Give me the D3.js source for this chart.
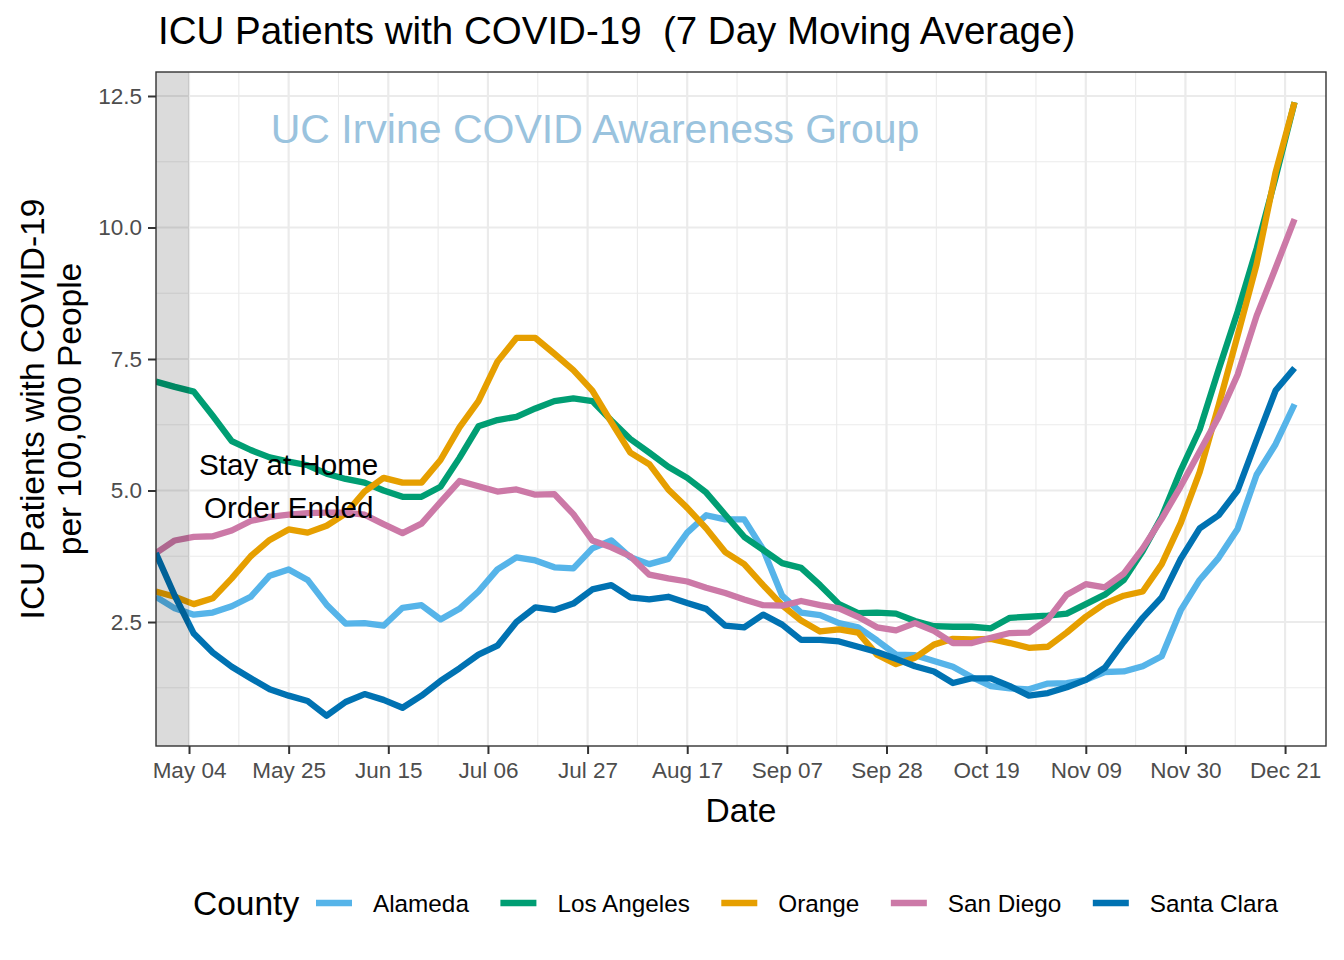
<!DOCTYPE html>
<html><head><meta charset="utf-8">
<script src="https://cdn.jsdelivr.net/npm/d3@7"></script>
<style>
body{margin:0;background:#fff}
text{font-family:"Liberation Sans",Arial,Helvetica,sans-serif}
</style>
</head><body>
<svg id="chart" width="1344" height="960"></svg>
<script>
// ---------------- data ----------------
const dates = ["2020-04-27","2020-05-01","2020-05-05","2020-05-09","2020-05-13","2020-05-17","2020-05-21","2020-05-25","2020-05-29",
"2020-06-02","2020-06-06","2020-06-10","2020-06-14","2020-06-18","2020-06-22","2020-06-26","2020-06-30",
"2020-07-04","2020-07-08","2020-07-12","2020-07-16","2020-07-20","2020-07-24","2020-07-28",
"2020-08-01","2020-08-05","2020-08-09","2020-08-13","2020-08-17","2020-08-21","2020-08-25","2020-08-29",
"2020-09-02","2020-09-06","2020-09-10","2020-09-14","2020-09-18","2020-09-22","2020-09-26","2020-09-30",
"2020-10-04","2020-10-08","2020-10-12","2020-10-16","2020-10-20","2020-10-24","2020-10-28",
"2020-11-01","2020-11-05","2020-11-09","2020-11-13","2020-11-17","2020-11-21","2020-11-25","2020-11-29",
"2020-12-03","2020-12-07","2020-12-11","2020-12-15","2020-12-19","2020-12-23"];

const alameda = [2.98,2.76,2.64,2.68,2.8,2.98,3.38,3.5,3.3,2.83,2.47,2.48,2.43,2.77,2.82,2.55,2.75,3.08,3.5,3.73,3.67,3.54,3.52,3.9,4.05,3.73,3.6,3.7,4.2,4.53,4.45,4.45,3.88,3.0,2.68,2.63,2.48,2.4,2.15,1.88,1.87,1.76,1.65,1.45,1.28,1.24,1.22,1.33,1.34,1.4,1.55,1.56,1.66,1.85,2.72,3.3,3.72,4.27,5.3,5.88,6.64];
const losAngeles = [7.07,6.97,6.88,6.42,5.94,5.77,5.63,5.55,5.48,5.32,5.22,5.15,5.0,4.88,4.88,5.07,5.62,6.22,6.34,6.4,6.56,6.7,6.75,6.7,6.33,5.98,5.72,5.45,5.24,4.96,4.54,4.12,3.87,3.62,3.53,3.2,2.84,2.67,2.68,2.66,2.52,2.42,2.41,2.41,2.38,2.58,2.6,2.62,2.66,2.84,3.02,3.3,3.85,4.5,5.38,6.16,7.3,8.4,9.6,10.95,12.38];
const orange = [3.08,2.98,2.84,2.95,3.33,3.75,4.06,4.26,4.2,4.33,4.56,4.98,5.24,5.15,5.15,5.58,6.2,6.7,7.45,7.9,7.9,7.6,7.29,6.9,6.3,5.72,5.5,5.02,4.67,4.28,3.83,3.6,3.2,2.82,2.53,2.32,2.36,2.3,1.88,1.7,1.82,2.07,2.18,2.17,2.18,2.1,2.01,2.03,2.3,2.6,2.85,3.0,3.08,3.6,4.38,5.35,6.62,7.95,9.3,11.05,12.38];
const sanDiego = [3.81,4.05,4.12,4.13,4.24,4.42,4.5,4.54,4.57,4.58,4.58,4.54,4.36,4.19,4.37,4.78,5.18,5.08,4.98,5.02,4.92,4.93,4.55,4.05,3.92,3.75,3.4,3.33,3.27,3.15,3.05,2.93,2.82,2.81,2.9,2.82,2.76,2.6,2.4,2.34,2.48,2.33,2.1,2.1,2.2,2.29,2.3,2.55,3.02,3.22,3.16,3.42,3.9,4.46,5.08,5.74,6.4,7.2,8.32,9.23,10.16];
const santaClara = [3.81,3.0,2.28,1.92,1.65,1.43,1.22,1.1,1.0,0.72,0.98,1.13,1.02,0.87,1.1,1.38,1.62,1.88,2.05,2.5,2.78,2.73,2.85,3.12,3.2,2.97,2.93,2.98,2.86,2.75,2.43,2.4,2.64,2.45,2.16,2.16,2.13,2.03,1.93,1.8,1.66,1.56,1.34,1.43,1.43,1.28,1.1,1.15,1.26,1.4,1.63,2.12,2.58,2.97,3.7,4.28,4.53,5.0,5.96,6.9,7.33];

const counties = ["Alameda","Los Angeles","Orange","San Diego","Santa Clara"];
const countyValues = [alameda, losAngeles, orange, sanDiego, santaClara];
const countyColors = ["#56B4E9","#009E73","#E69F00","#CC79A7","#0072B2"];

const xTickDates = ["2020-05-04","2020-05-25","2020-06-15","2020-07-06","2020-07-27","2020-08-17","2020-09-07","2020-09-28","2020-10-19","2020-11-09","2020-11-30","2020-12-21"];
const xTickLabels = ["May 04","May 25","Jun 15","Jul 06","Jul 27","Aug 17","Sep 07","Sep 28","Oct 19","Nov 09","Nov 30","Dec 21"];
const yTicks = [2.5,5.0,7.5,10.0,12.5];
const yMinorTicks = [1.25,3.75,6.25,8.75,11.25];
const stayHomeEnd = "2020-05-04";

// ---------------- layout ----------------
const svg = d3.select("#chart");
const L = 156, R = 1326, T = 72, B = 746;
const parse = d3.utcParse("%Y-%m-%d");
const x = d3.scaleUtc()
  .domain([new Date(Date.UTC(2020,3,27,1)), new Date(Date.UTC(2020,11,29,15))])
  .range([L, R]);
const y = d3.scaleLinear().domain([0.143, 12.956]).range([B, T]);

const fontTick = 22.5, fontAxisTitle = 33.5;

// panel background
svg.append("rect").attr("x",L).attr("y",T).attr("width",R-L).attr("height",B-T).attr("fill","#fff");

// gridlines
const grid = svg.append("g");
const xt = xTickDates.map(parse);
const xMinor = xt.slice(0,-1).map(d => new Date(+d + 10.5*864e5));
grid.selectAll(".ymin").data(yMinorTicks).join("line")
  .attr("x1",L).attr("x2",R).attr("y1",d=>y(d)).attr("y2",d=>y(d))
  .attr("stroke","#EBEBEB").attr("stroke-width",1.1);
grid.selectAll(".xmin").data(xMinor).join("line")
  .attr("y1",T).attr("y2",B).attr("x1",d=>x(d)).attr("x2",d=>x(d))
  .attr("stroke","#EBEBEB").attr("stroke-width",1.1);
grid.selectAll(".ymaj").data(yTicks).join("line")
  .attr("x1",L).attr("x2",R).attr("y1",d=>y(d)).attr("y2",d=>y(d))
  .attr("stroke","#EBEBEB").attr("stroke-width",2.2);
grid.selectAll(".xmaj").data(xt).join("line")
  .attr("y1",T).attr("y2",B).attr("x1",d=>x(d)).attr("x2",d=>x(d))
  .attr("stroke","#EBEBEB").attr("stroke-width",2.2);

// watermark
svg.append("text").attr("x", 595).attr("y", 143).attr("text-anchor","middle")
  .attr("font-size", 41).attr("fill","#9AC3DE").text("UC Irvine COVID Awareness Group");

// lines
svg.append("clipPath").attr("id","clip").append("rect")
  .attr("x",L).attr("y",T).attr("width",R-L).attr("height",B-T);
const parsedDates = dates.map(parse);
const line = d3.line().x((d,i)=>x(parsedDates[i])).y(d=>y(d));
const lg = svg.append("g").attr("clip-path","url(#clip)");
countyValues.forEach((vals,k)=>{
  lg.append("path").attr("d", line(vals)).attr("fill","none")
    .attr("stroke", countyColors[k]).attr("stroke-width",6.3)
    .attr("stroke-linejoin","round").attr("stroke-linecap","butt");
});

// shaded period
svg.append("rect").attr("x",L).attr("y",T)
  .attr("width", x(parse(stayHomeEnd)) - L).attr("height", B-T)
  .attr("fill","#000").attr("fill-opacity",0.14);

// annotation
const annX = x(parse("2020-05-25")), annY = y(5.0);
svg.append("text").attr("x",annX).attr("y",annY-16).attr("text-anchor","middle")
  .attr("font-size",29.6).attr("fill","#000").text("Stay at Home");
svg.append("text").attr("x",annX).attr("y",annY+27).attr("text-anchor","middle")
  .attr("font-size",29.6).attr("fill","#000").text("Order Ended");

// panel border
svg.append("rect").attr("x",L).attr("y",T).attr("width",R-L).attr("height",B-T)
  .attr("fill","none").attr("stroke","#333333").attr("stroke-width",1.4);

// axes
const xAxis = d3.axisBottom(x).tickValues(xt)
  .tickFormat((d,i)=>xTickLabels[i]).tickSize(8).tickPadding(8);
const gx = svg.append("g").attr("transform",`translate(0,${B})`).call(xAxis);
gx.select(".domain").remove();
gx.selectAll(".tick line").attr("stroke","#333333").attr("stroke-width",2);
gx.selectAll(".tick text").attr("font-size",fontTick).attr("fill","#4D4D4D")
  .attr("font-family",'"Liberation Sans",Arial,sans-serif');

const yAxis = d3.axisLeft(y).tickValues(yTicks).tickFormat(d3.format(".1f")).tickSize(8).tickPadding(6);
const gy = svg.append("g").attr("transform",`translate(${L},0)`).call(yAxis);
gy.select(".domain").remove();
gy.selectAll(".tick line").attr("stroke","#333333").attr("stroke-width",2);
gy.selectAll(".tick text").attr("font-size",fontTick).attr("fill","#4D4D4D")
  .attr("font-family",'"Liberation Sans",Arial,sans-serif');

// title
svg.append("text").attr("x",158).attr("y",44).attr("font-size",38.5).attr("fill","#000")
  .style("white-space","pre").text("ICU Patients with COVID-19  (7 Day Moving Average)");

// axis titles
svg.append("text").attr("x",(L+R)/2).attr("y",822).attr("text-anchor","middle")
  .attr("font-size",fontAxisTitle).attr("fill","#000").text("Date");
const yc = (T+B)/2;
svg.append("text").attr("transform",`translate(44,${yc}) rotate(-90)`).attr("text-anchor","middle")
  .attr("font-size",fontAxisTitle).attr("fill","#000").text("ICU Patients with COVID-19");
svg.append("text").attr("transform",`translate(81,${yc}) rotate(-90)`).attr("text-anchor","middle")
  .attr("font-size",fontAxisTitle).attr("fill","#000").text("per 100,000 People");

// legend
const leg = svg.append("g");
const legY = 903;
leg.append("text").attr("x",193).attr("y",legY+12).attr("font-size",33.5).attr("fill","#000").text("County");
let cx = 316;
counties.forEach((c,k)=>{
  leg.append("line").attr("x1",cx).attr("x2",cx+36).attr("y1",legY).attr("y2",legY)
    .attr("stroke",countyColors[k]).attr("stroke-width",6.5);
  const t = leg.append("text").attr("x",cx+57).attr("y",legY+8.7)
    .attr("font-size",24.3).attr("fill","#000").text(c);
  cx = cx + 57 + t.node().getComputedTextLength() + 31.5;
});
</script>
</body></html>
